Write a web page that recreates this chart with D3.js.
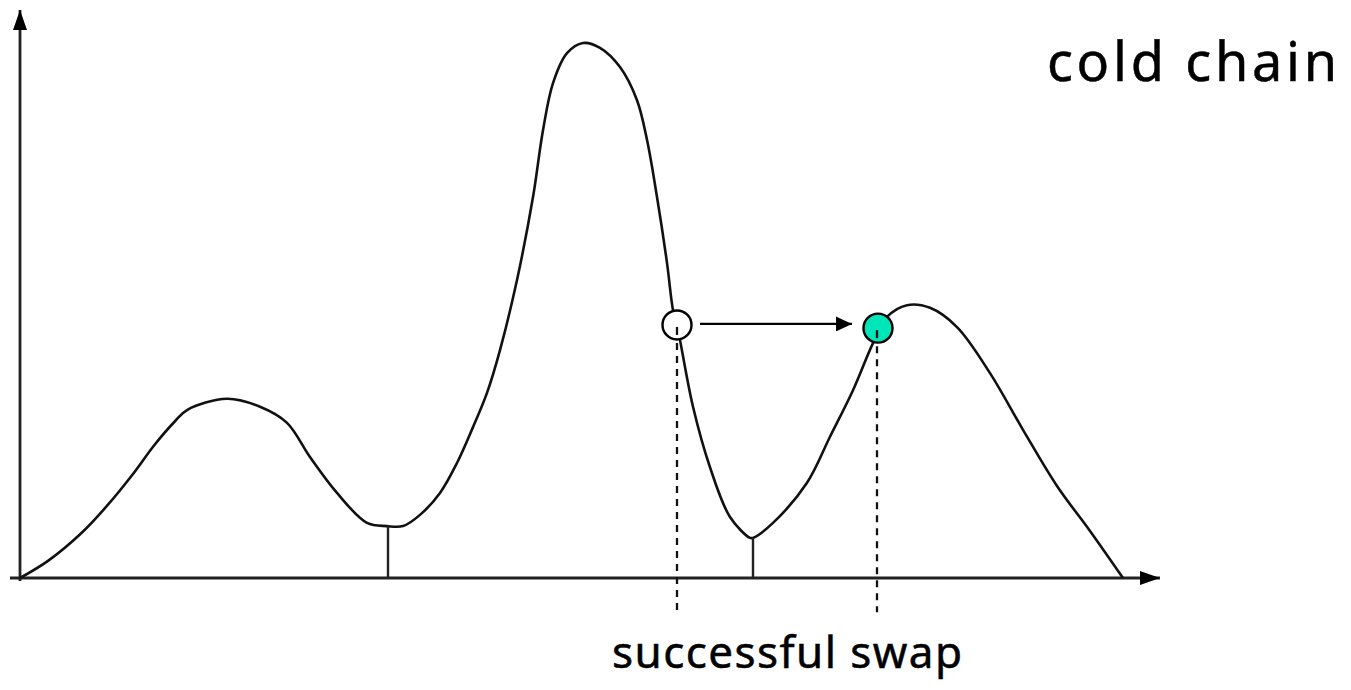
<html>
<head>
    <style>
        body { margin: 0; background: #fff; }
        text { font-family: "Comic Sans MS", "Noto Sans", sans-serif; fill: #000; stroke: #000; stroke-width: 0.5; }
    </style>
</head>
<body>
    <svg id="container" width="1351" height="690"></svg>
</body>
<script src="https://cdn.jsdelivr.net/npm/d3@7"></script>
<script>
    // density curve (x in state units, y relative density)
    let curveX = [0, 0.28, 0.62, 0.88, 1.12, 1.35, 1.55, 1.67, 2.07, 2.40, 2.67, 2.90, 3.17, 3.47, 3.67, 3.83, 4.00, 4.20, 4.37, 4.53, 4.67, 4.80, 4.97,
        5.13, 5.23, 5.33, 5.47, 5.63, 5.80, 6.00, 6.17, 6.27, 6.37, 6.47, 6.53, 6.57, 6.73, 6.90, 7.10, 7.30, 7.33, 7.53, 7.87,
        8.10, 8.33, 8.53, 8.67, 8.87, 9.10, 9.37, 9.70, 10.03, 10.37, 10.70, 11.03]
    let curveY = [0, 0.032, 0.085, 0.137, 0.192, 0.250, 0.293, 0.314, 0.335, 0.320, 0.290, 0.226, 0.159, 0.103, 0.097, 0.097, 0.118, 0.159, 0.215, 0.282, 0.346, 0.426, 0.557,
        0.712, 0.837, 0.925, 0.981, 1.000, 0.991, 0.955, 0.893, 0.819, 0.712, 0.589, 0.501, 0.473, 0.320, 0.207, 0.114, 0.075, 0.075, 0.103, 0.178,
        0.264, 0.351, 0.439, 0.488, 0.510, 0.505, 0.469, 0.383, 0.277, 0.172, 0.088, 0]

    let valleyX = [3.68, 7.33]
    let valleyY = [0.097, 0.075]

    let swapFrom = [6.57, 0.473]
    let swapTo = [8.57, 0.467]

    let titleText = "cold chain"
    let swapText = "successful swap"

    let svg = d3.select("#container")

    let x = d3.scaleLinear().domain([0, 11]).range([20, 1120])
    let y = d3.scaleLinear().domain([0, 1]).range([578, 43])

    let defs = svg.append("defs")
    function addHead(id, w, h) {
        defs.append("marker")
            .attr("id", id)
            .attr("viewBox", "0 0 10 10")
            .attr("preserveAspectRatio", "none")
            .attr("refX", 10).attr("refY", 5)
            .attr("markerWidth", w).attr("markerHeight", h)
            .attr("markerUnits", "userSpaceOnUse")
            .attr("orient", "auto")
            .append("path").attr("d", "M0,0 L10,5 L0,10 Z").attr("fill", "#000")
    }
    addHead("axhead", 20, 14)
    addHead("swaphead", 16, 15)

    // axes with arrow heads
    svg.append("line")
        .attr("x1", x.range()[0] - 10).attr("x2", x.range()[1] + 40)
        .attr("y1", y(0)).attr("y2", y(0))
        .attr("stroke", "#222").attr("stroke-width", 2.8)
        .attr("marker-end", "url(#axhead)")
    svg.append("line")
        .attr("x1", x(0)).attr("x2", x(0))
        .attr("y1", y(0) + 3).attr("y2", y.range()[1] - 33)
        .attr("stroke", "#222").attr("stroke-width", 2.8)
        .attr("marker-end", "url(#axhead)")

    let points = curveX.map((d, i) => [d, curveY[i]])
    let line = d3.line()
        .x(d => x(d[0]))
        .y(d => y(d[1]))
        .curve(d3.curveCatmullRom.alpha(0.5))

    svg.append("path")
        .attr("d", line(points))
        .attr("fill", "none")
        .attr("stroke", "#111")
        .attr("stroke-width", 2.6)

    // valley markers
    svg.selectAll(".valley")
        .data(valleyX)
        .enter()
        .append("line")
        .attr("x1", d => x(d)).attr("x2", d => x(d))
        .attr("y1", (d, i) => y(valleyY[i])).attr("y2", y(0))
        .attr("stroke", "#222").attr("stroke-width", 2.4)

    // dashed drop lines under the two states
    svg.selectAll(".drop")
        .data([swapFrom, swapTo])
        .enter()
        .append("line")
        .attr("x1", d => x(d[0])).attr("x2", d => x(d[0]))
        .attr("y1", d => y(d[1]) + 5).attr("y2", y(-0.064))
        .attr("stroke", "#111").attr("stroke-width", 2.3)
        .attr("stroke-dasharray", "7,6")

    // swap arrow
    svg.append("line")
        .attr("x1", x(swapFrom[0]) + 23).attr("x2", x(swapTo[0]) - 25)
        .attr("y1", y(swapFrom[1]) - 1).attr("y2", y(swapFrom[1]) - 1)
        .attr("stroke", "#000").attr("stroke-width", 2.2)
        .attr("marker-end", "url(#swaphead)")

    svg.append("circle")
        .attr("cx", x(swapFrom[0])).attr("cy", y(swapFrom[1]))
        .attr("r", 14.5)
        .attr("fill", "#fff").attr("stroke", "#000").attr("stroke-width", 2.4)
    svg.append("circle")
        .attr("cx", x(swapTo[0]) + 1).attr("cy", y(swapTo[1]))
        .attr("r", 14.5)
        .attr("fill", "#00e6b9").attr("stroke", "#000").attr("stroke-width", 2.4)

    // short dash marks inside the circles
    svg.selectAll(".tick")
        .data([swapFrom, swapTo])
        .enter()
        .append("line")
        .attr("x1", d => x(d[0])).attr("x2", d => x(d[0]))
        .attr("y1", d => y(d[1]) + 2).attr("y2", d => y(d[1]) + 10)
        .attr("stroke", "#111").attr("stroke-width", 2.3)

    svg.append("text")
        .attr("x", 1047).attr("y", 81)
        .attr("font-size", 54)
        .attr("textLength", 290)
        .text(titleText)

    svg.append("text")
        .attr("x", 612).attr("y", 668)
        .attr("font-size", 44)
        .attr("textLength", 350)
        .text(swapText)
</script>
</html>
